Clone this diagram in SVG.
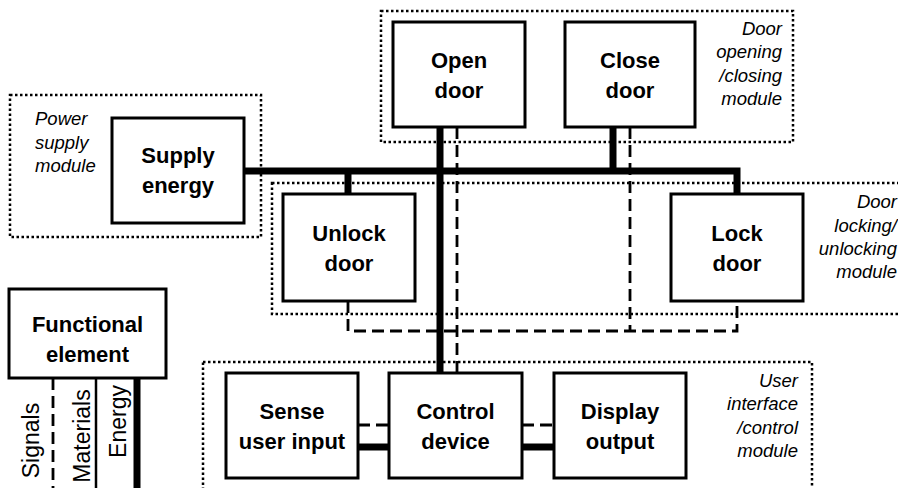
<svg xmlns="http://www.w3.org/2000/svg" width="898" height="488" viewBox="0 0 898 488">
  <style>
    .box { fill: #fff; stroke: #000; stroke-width: 3; }
    .module { fill: none; stroke: #000; stroke-width: 2.5; stroke-dasharray: 2.5 2.5; }
    .energy { fill: none; stroke: #000; stroke-width: 7; stroke-linejoin: miter; stroke-linecap: butt; }
    .signal { fill: none; stroke: #000; stroke-width: 2.8; stroke-dasharray: 12 6; }
    .material { fill: none; stroke: #000; stroke-width: 2.5; }
    .label { font-family: "Liberation Sans", Arial, sans-serif; font-weight: bold; font-size: 22px; text-anchor: middle; fill: #000; }
    .mod { font-family: "Liberation Sans", Arial, sans-serif; font-style: italic; font-size: 18.5px; fill: #000; }
    .end { text-anchor: end; }
    .legend { font-family: "Liberation Sans", Arial, sans-serif; font-size: 23px; text-anchor: middle; fill: #000; }
  </style>

  <!-- module outlines -->
  <g id="modules">
    <rect class="module" x="381" y="11" width="412" height="131"/>
    <rect class="module" x="10" y="95" width="251" height="142"/>
    <rect class="module" x="272" y="183" width="640" height="131"/>
    <rect class="module" x="203" y="362" width="609" height="140"/>
  </g>

  <!-- module captions -->
  <g id="module-captions">
    <text class="mod end" x="782"><tspan x="782" y="35">Door</tspan><tspan x="782" y="58">opening</tspan><tspan x="782" y="81.5">/closing</tspan><tspan x="782" y="105">module</tspan></text>
    <text class="mod" x="35"><tspan x="35" y="125">Power</tspan><tspan x="35" y="148.5">supply</tspan><tspan x="35" y="172">module</tspan></text>
    <text class="mod end" x="897"><tspan x="897" y="208">Door</tspan><tspan x="897" y="231.5">locking/</tspan><tspan x="897" y="255">unlocking</tspan><tspan x="897" y="278">module</tspan></text>
    <text class="mod end" x="798"><tspan x="798" y="387">User</tspan><tspan x="798" y="410">interface</tspan><tspan x="798" y="433.5">/control</tspan><tspan x="798" y="457">module</tspan></text>
  </g>

  <!-- flows between functions -->
  <g id="connectors">
    <!-- energy -->
    <polyline class="energy" points="244,171 737,171 737,194"/>
    <line class="energy" x1="440" y1="127" x2="440" y2="373"/>
    <line class="energy" x1="613" y1="127" x2="613" y2="171"/>
    <line class="energy" x1="348" y1="171" x2="348" y2="194"/>
    <line class="energy" x1="358" y1="447" x2="389" y2="447"/>
    <line class="energy" x1="522" y1="447" x2="554" y2="447"/>
    <!-- signals -->
    <line class="signal" x1="457" y1="127" x2="457" y2="373"/>
    <line class="signal" x1="630" y1="127" x2="630" y2="331"/>
    <polyline class="signal" points="348,301 348,331 737,331 737,301"/>
    <line class="signal" x1="358" y1="425" x2="389" y2="425"/>
    <line class="signal" x1="522" y1="425" x2="554" y2="425"/>
  </g>

  <g id="open-door">
    <rect class="box" x="393" y="22" width="132" height="105"/>
    <text class="label"><tspan x="459" y="68">Open</tspan><tspan x="459" y="98">door</tspan></text>
  </g>
  <g id="close-door">
    <rect class="box" x="565" y="22" width="130" height="105"/>
    <text class="label"><tspan x="630" y="68">Close</tspan><tspan x="630" y="98">door</tspan></text>
  </g>
  <g id="supply-energy">
    <rect class="box" x="112" y="118" width="132" height="105"/>
    <text class="label"><tspan x="178" y="163">Supply</tspan><tspan x="178" y="193">energy</tspan></text>
  </g>
  <g id="unlock-door">
    <rect class="box" x="283" y="194" width="132" height="107"/>
    <text class="label"><tspan x="349" y="241">Unlock</tspan><tspan x="349" y="271">door</tspan></text>
  </g>
  <g id="lock-door">
    <rect class="box" x="671" y="194" width="132" height="107"/>
    <text class="label"><tspan x="737" y="241">Lock</tspan><tspan x="737" y="271">door</tspan></text>
  </g>
  <g id="sense-user-input">
    <rect class="box" x="226" y="373" width="132" height="105"/>
    <text class="label"><tspan x="292" y="419">Sense</tspan><tspan x="292" y="449">user input</tspan></text>
  </g>
  <g id="control-device">
    <rect class="box" x="389" y="373" width="133" height="105"/>
    <text class="label"><tspan x="455.5" y="419">Control</tspan><tspan x="455.5" y="449">device</tspan></text>
  </g>
  <g id="display-output">
    <rect class="box" x="554" y="373" width="132" height="105"/>
    <text class="label"><tspan x="620" y="419">Display</tspan><tspan x="620" y="449">output</tspan></text>
  </g>

  <!-- key -->
  <g id="legend">
    <line class="signal" x1="53" y1="378" x2="53" y2="488"/>
    <line class="material" x1="96" y1="378" x2="96" y2="488"/>
    <line class="energy" x1="137" y1="378" x2="137" y2="488"/>
    <rect class="box" x="9" y="289" width="157" height="89"/>
    <text class="label"><tspan x="87.5" y="332">Functional</tspan><tspan x="87.5" y="362">element</tspan></text>
    <text class="legend" transform="translate(39,440.5) rotate(-90)">Signals</text>
    <text class="legend" transform="translate(90,436) rotate(-90)">Materials</text>
    <text class="legend" transform="translate(126,421.5) rotate(-90)">Energy</text>
  </g>
</svg>
